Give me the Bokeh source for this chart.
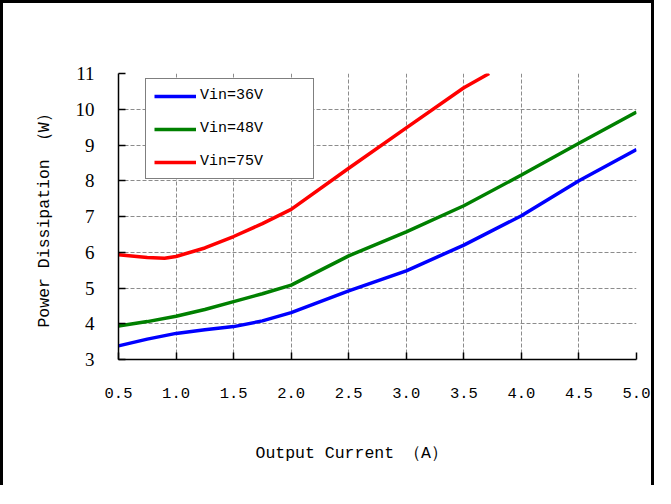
from bokeh.plotting import figure
from bokeh.models import (Legend, LegendItem, FixedTicker, Range1d, NumeralTickFormatter,
                          Title, LinearAxis, CustomJSTickFormatter)
from bokeh.embed import file_html
from bokeh.resources import INLINE

# ---- data ----
x_common = [0.5, 0.75, 1.0, 1.25, 1.5, 1.75, 2.0, 2.5, 3.0, 3.5, 4.0, 4.5, 5.0]
vin36 = [3.38, 3.57, 3.73, 3.83, 3.92, 4.08, 4.31, 4.92, 5.48, 6.20, 7.02, 8.00, 8.87]
vin48 = [3.94, 4.06, 4.21, 4.40, 4.62, 4.84, 5.08, 5.90, 6.57, 7.30, 8.16, 9.05, 9.92]
x_75 = [0.5, 0.75, 0.9, 1.0, 1.25, 1.5, 1.75, 2.0, 2.5, 3.0, 3.5, 3.72]
vin75 = [5.93, 5.85, 5.83, 5.88, 6.12, 6.44, 6.80, 7.20, 8.35, 9.48, 10.60, 11.0]

series_names = ["Vin=36V", "Vin=48V", "Vin=75V"]
series_colors = ["#0000FF", "#008000", "#FF0000"]
x_ticks = [0.5, 1.0, 1.5, 2.0, 2.5, 3.0, 3.5, 4.0, 4.5, 5.0]
y_ticks = [3, 4, 5, 6, 7, 8, 9, 10, 11]
x_title = "Output Current （A）"
y_title = "Power Dissipation （W）"

MONO = "Liberation Mono"

p = figure(width=654, height=485,
           x_range=Range1d(0.5, 5.0), y_range=Range1d(3, 11),
           output_backend="svg", toolbar_location=None,
           min_border_left=115, min_border_top=70,
           min_border_right=21, min_border_bottom=129)
p.styles = {"border-top": "3px solid black", "border-left": "3px solid black",
            "border-right": "3px solid black"}
p.outline_line_color = None
p.background_fill_color = "white"
p.border_fill_color = "white"

# axes
for ax in (p.xaxis[0], p.yaxis[0]):
    ax.axis_line_color = "black"
    ax.axis_line_width = 1.5
    ax.major_tick_line_color = "black"
    ax.major_tick_line_width = 1.5
    ax.major_tick_in = 7
    ax.major_tick_out = 0
    ax.minor_tick_line_color = None
    ax.major_label_text_color = "black"

p.xaxis.ticker = FixedTicker(ticks=x_ticks)
p.yaxis.ticker = FixedTicker(ticks=y_ticks)
p.xaxis.formatter = NumeralTickFormatter(format="0.0")
p.xaxis.major_label_text_font = MONO
p.xaxis.major_label_text_font_size = "15.5px"
p.xaxis.major_label_standoff = 28
p.yaxis.major_label_text_font = "Liberation Serif"
p.yaxis.major_label_text_font_size = "19px"
p.yaxis.major_label_standoff = 24

p.yaxis.axis_label = y_title
p.yaxis.axis_label_text_font = MONO
p.yaxis.axis_label_text_font_size = "16.5px"
p.yaxis.axis_label_text_font_style = "normal"
p.yaxis.axis_label_text_color = "black"
p.yaxis.axis_label_standoff = 19

# grid
for g in (p.xgrid[0], p.ygrid[0]):
    g.grid_line_color = "#8c8c8c"
    g.grid_line_dash = "4 2"
    g.grid_line_width = 1

# lines
r36 = p.line(x_common, vin36, line_color=series_colors[0], line_width=3.5)
r48 = p.line(x_common, vin48, line_color=series_colors[1], line_width=3.5)
r75 = p.line(x_75, vin75, line_color=series_colors[2], line_width=3.5)

legend = Legend(items=[LegendItem(label=series_names[0], renderers=[r36]),
                       LegendItem(label=series_names[1], renderers=[r48]),
                       LegendItem(label=series_names[2], renderers=[r75])],
                location=(27, 180))
legend.border_line_color = "black"
legend.border_line_width = 1.2
legend.background_fill_color = "white"
legend.background_fill_alpha = 1
legend.padding = 8
legend.spacing = 16
legend.margin = 0
legend.glyph_width = 42
legend.glyph_height = 14
legend.label_height = 14
legend.label_standoff = 4
legend.label_width = 105
legend.label_text_font = MONO
legend.label_text_font_size = "15px"
legend.label_text_color = "black"
p.add_layout(legend)

# invisible spacer axis (one hidden tick, blank label) to push the x title down
spacer = LinearAxis(ticker=FixedTicker(ticks=[x_ticks[0]]),
                    formatter=CustomJSTickFormatter(code="return ''"),
                    axis_line_color=None,
                    major_tick_line_color=None, minor_tick_line_color=None,
                    major_tick_in=0, major_tick_out=20, minor_tick_in=0, minor_tick_out=0,
                    major_label_standoff=0, major_label_text_alpha=0,
                    major_label_text_font_size="1px")

# x axis title
xt = Title(text=x_title, align="left", offset=137, standoff=43,
           text_font=MONO, text_font_size="16.5px", text_font_style="normal",
           text_color="black")
p.below = [p.xaxis[0], spacer, xt]

open("out.html", "w").write(file_html(p, INLINE))
